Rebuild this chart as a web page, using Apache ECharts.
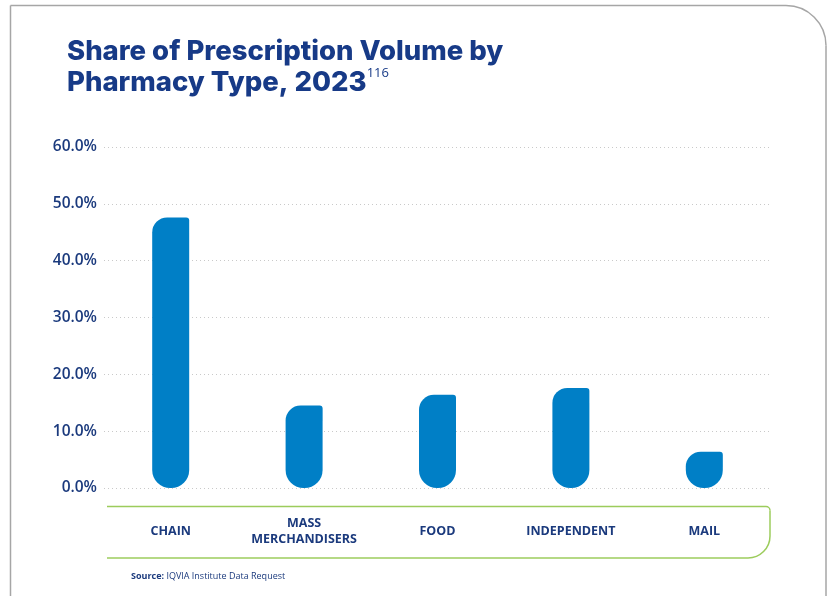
<!DOCTYPE html>
<head>
    <meta charset="utf-8">
    <title>Share of Prescription Volume by Pharmacy Type, 2023</title>
    <script src="https://cdn.jsdelivr.net/npm/echarts@6/dist/echarts.min.js"></script>
    <style>
        html, body { margin: 0; padding: 0; background: #fff; }
    </style>
</head>
<body>
    <div id="main" style="width: 829px;height:596px"></div>
    <script type="text/javascript">
        var categories = ['CHAIN', 'MASS\nMERCHANDISERS', 'FOOD', 'INDEPENDENT', 'MAIL'];
        var shares = [47.6, 14.5, 16.4, 17.6, 6.4];
        var yTicks = [0, 10, 20, 30, 40, 50, 60];

        var navy = '#1b3a7d';
        var frameStyle = { stroke: '#a6a6a6', lineWidth: 1.5, fill: 'none' };
        var boxStyle = { stroke: '#9ccc5c', lineWidth: 1.5, fill: 'none' };
        var myChart = echarts.init(document.getElementById('main'));

        var option = {
            backgroundColor: '#fff',
            title: {
                text: 'Share of Prescription Volume by\nPharmacy Type, 2023{sup|116}',
                left: 62,
                top: 31,
                textStyle: {
                    fontFamily: 'Inter',
                    fontWeight: 800,
                    fontSize: 27.5,
                    lineHeight: 31,
                    color: '#173a87',
                    rich: {
                        sup: {
                            fontFamily: 'Open Sans',
                            fontWeight: 'normal',
                            fontSize: 13,
                            color: '#173a87',
                            verticalAlign: 'top',
                            padding: [0, 0, 12, 0]
                        }
                    }
                }
            },
            grid: {
                left: 104,
                right: 58,
                top: 147,
                bottom: 108,
                containLabel: false
            },
            xAxis: {
                type: 'category',
                data: categories,
                axisLine: { show: false },
                axisTick: { show: false },
                axisLabel: {
                    interval: 0,
                    hideOverlap: false,
                    margin: 43,
                    verticalAlign: 'middle',
                    fontFamily: 'Open Sans',
                    fontWeight: 'bold',
                    fontSize: 12.5,
                    lineHeight: 16,
                    color: navy
                }
            },
            yAxis: {
                type: 'value',
                min: yTicks[0],
                max: yTicks[yTicks.length - 1],
                interval: 10,
                axisLine: { show: false },
                axisTick: { show: false },
                axisLabel: {
                    margin: 7,
                    fontFamily: 'Open Sans',
                    fontWeight: 600,
                    fontSize: 15.5,
                    color: navy,
                    formatter: function (v) { return v.toFixed(1) + '%'; }
                },
                splitLine: {
                    lineStyle: { color: '#c9c9c9', width: 1, type: [1, 3] }
                }
            },
            series: [
                {
                    name: 'Share',
                    type: 'bar',
                    data: shares,
                    barWidth: 37,
                    itemStyle: {
                        color: '#007fc6',
                        borderRadius: [15, 3, 18, 18]
                    }
                }
            ],
            graphic: [
                // outer frame
                { type: 'line', silent: true, shape: { x1: 10.5, y1: 5.5, x2: 10.5, y2: 596 }, style: frameStyle },
                { type: 'line', silent: true, shape: { x1: 10.5, y1: 5.5, x2: 786, y2: 5.5 }, style: frameStyle },
                { type: 'arc', silent: true, shape: { cx: 786, cy: 45.5, r: 40, startAngle: -Math.PI / 2, endAngle: 0 }, style: frameStyle },
                { type: 'line', silent: true, shape: { x1: 826, y1: 45.5, x2: 826, y2: 596 }, style: frameStyle },
                // green category box
                { type: 'line', silent: true, shape: { x1: 107, y1: 506.5, x2: 766, y2: 506.5 }, style: boxStyle },
                { type: 'arc', silent: true, shape: { cx: 766, cy: 510.5, r: 4, startAngle: -Math.PI / 2, endAngle: 0 }, style: boxStyle },
                { type: 'line', silent: true, shape: { x1: 770, y1: 510.5, x2: 770, y2: 536 }, style: boxStyle },
                { type: 'arc', silent: true, shape: { cx: 748, cy: 536, r: 22, startAngle: 0, endAngle: Math.PI / 2 }, style: boxStyle },
                { type: 'line', silent: true, shape: { x1: 748, y1: 558, x2: 107, y2: 558 }, style: boxStyle },
                {
                    type: 'text',
                    left: 131,
                    top: 572,
                    style: {
                        text: '{b|Source:} IQVIA Institute Data Request',
                        font: '9px "Open Sans"',
                        fill: navy,
                        rich: {
                            b: { fontFamily: 'Open Sans', fontWeight: 'bold', fontSize: 9, fill: navy }
                        }
                    }
                }
            ]
        };
        myChart.setOption(option);
    </script>
</body>
